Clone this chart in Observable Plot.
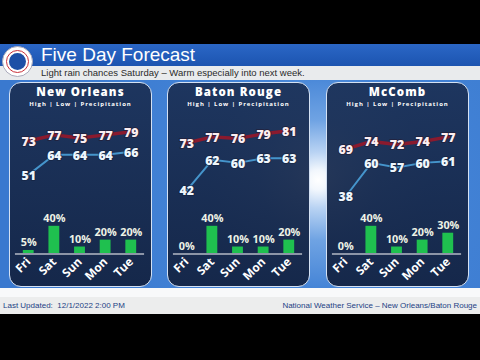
<!DOCTYPE html>
<html><head><meta charset="utf-8">
<script src="https://cdn.jsdelivr.net/npm/d3@7"></script>
<script src="https://cdn.jsdelivr.net/npm/@observablehq/plot@0.6"></script>
<style>
html,body{margin:0;padding:0;width:480px;height:360px;overflow:hidden;background:#000;font-family:"Liberation Sans",Arial,sans-serif}
#stage{position:relative;width:480px;height:360px;background:#000}
.abs{position:absolute}
#titlebar{left:0;top:44px;width:480px;height:22px;background:linear-gradient(#2b67c6,#1c54b0)}
#title{left:41px;top:44px;font-size:19px;color:#fff;line-height:22px;white-space:nowrap}
#subband{left:0;top:66px;width:480px;height:14px;background:#e9ebed}
#subtitle{left:41px;top:66px;font-size:9.5px;color:#2a2a2a;line-height:14px;white-space:nowrap}
#bg{left:0;top:80px;width:480px;height:208px;background:radial-gradient(circle at 318px 100px,#ffffff 0,#f2f7fd 10px,#b9d3f3 28px,#6fa3e3 60px,#4383d6 110px,#3a79cf 300px)}
#gap{left:0;top:288px;width:480px;height:9px;background:#f8f9fa}
#footer{left:0;top:297px;width:480px;height:17px;background:#eceded}
#updated{left:3px;top:297px;line-height:17px;font-size:8px;color:#233f84;white-space:nowrap}
#nws{right:3px;top:297px;line-height:17px;font-size:8px;color:#233f84;white-space:nowrap}
#logo{left:2px;top:46px;width:31px;height:31px;border-radius:50%;background:#fff;border:1px solid #aab;box-sizing:border-box}
#logo .ring{position:absolute;left:3px;top:3px;width:23px;height:23px;border-radius:50%;border:1.5px solid #c8303a;box-sizing:border-box}
#logo .inner{position:absolute;left:6px;top:6px;width:17px;height:17px;border-radius:50%;background:#1d4fa6}
.card{position:absolute;top:82px;width:143px;height:205px;border-radius:12px;border:1.5px solid #d4e1f3;box-sizing:border-box;background:linear-gradient(rgba(27,48,86,0.93),rgba(20,37,70,0.97));overflow:visible}
.ctitle{position:absolute;left:0;top:2px;width:100%;text-align:center;color:#fff;font-family:"Open Sans",sans-serif;font-weight:800;font-size:11.5px;line-height:14px;letter-spacing:1.1px;white-space:nowrap}
.csub{position:absolute;left:0;top:17px;width:100%;text-align:center;color:#fff;font-family:"Open Sans",sans-serif;font-weight:700;font-size:6px;line-height:8px;letter-spacing:0.95px;white-space:nowrap}
.card svg{position:absolute;left:-1.5px;overflow:visible;background:transparent}
</style></head>
<body><div id="stage">
<div class="abs" id="titlebar"></div>
<div class="abs" id="title">Five Day Forecast</div>
<div class="abs" id="subband"></div>
<div class="abs" id="subtitle">Light rain chances Saturday – Warm especially into next week.</div>
<div class="abs" id="logo"><div class="ring"></div><div class="inner"></div></div>
<div class="abs" id="bg"></div>
<div class="abs" id="gap"></div>
<div class="abs" id="footer"></div>
<div class="abs" id="updated">Last Updated:&nbsp; 12/1/2022 2:00 PM</div>
<div class="abs" id="nws">National Weather Service – New Orleans/Baton Rouge</div>
</div>
<script>
const days = ["Fri","Sat","Sun","Mon","Tue"];
const cities = ["New Orleans","Baton Rouge","McComb"];
const subtitleText = "High | Low | Precipitation";
const highNewOrleans = [73,77,75,77,79];
const lowNewOrleans  = [51,64,64,64,66];
const precipNewOrleans = [5,40,10,20,20];
const highBatonRouge = [73,77,76,79,81];
const lowBatonRouge  = [42,62,60,63,63];
const precipBatonRouge = [0,40,10,10,20];
const highMcComb = [69,74,72,74,77];
const lowMcComb  = [38,60,57,60,61];
const precipMcComb = [0,40,10,20,30];

const series = [
  {high: highNewOrleans, low: lowNewOrleans, precip: precipNewOrleans},
  {high: highBatonRouge, low: lowBatonRouge, precip: precipBatonRouge},
  {high: highMcComb, low: lowMcComb, precip: precipMcComb}
];
// layout only
const cardLefts = [9, 167, 326];
const tempShift = [-2, 0, 0];
const font = "'Open Sans', sans-serif";
const xScale = {type:"band", domain: days, paddingInner:0.58, paddingOuter:0.29};

const stage = document.getElementById("stage");
cities.forEach((city, ci) => {
  const s = series[ci];
  const card = document.createElement("div");
  card.className = "card";
  card.style.left = cardLefts[ci] + "px";
  const t = document.createElement("div"); t.className = "ctitle"; t.textContent = city; card.appendChild(t);
  const st = document.createElement("div"); st.className = "csub"; st.textContent = subtitleText; card.appendChild(st);

  const highs = days.map((d,i) => ({day:d, v:s.high[i]}));
  const lows = days.map((d,i) => ({day:d, v:s.low[i]}));
  const pr = days.map((d,i) => ({day:d, p:s.precip[i]}));

  const temp = Plot.plot({
    width:143, height:130, marginLeft:6, marginRight:6, marginTop:0, marginBottom:0,
    style:{background:"transparent", fontFamily:font, overflow:"visible"},
    x:{...xScale, axis:null},
    y:{domain:[30,90], range:[127,34], axis:null},
    marks:[
      Plot.line(highs, {x:"day", y:"v", stroke:"#8a1a2e", strokeWidth:3.5}),
      Plot.line(lows, {x:"day", y:"v", stroke:"#4595cc", strokeWidth:2}),
      Plot.text(highs, {x:"day", y:"v", text:d=>String(d.v), fill:"#fbeef1", stroke:"#241a30", strokeWidth:2, strokeOpacity:0.6, fontSize:12.5, fontWeight:800, dy:1}),
      Plot.text(lows, {x:"day", y:"v", text:d=>String(d.v), fill:"#eef6fc", stroke:"#14223e", strokeWidth:2, strokeOpacity:0.6, fontSize:12.5, fontWeight:800, dy:1})
    ]
  });
  temp.style.top = tempShift[ci] + "px";
  card.appendChild(temp);

  const bars = Plot.plot({
    width:143, height:76, marginLeft:6, marginRight:6, marginTop:0, marginBottom:35,
    style:{background:"transparent", fontFamily:font, overflow:"visible"},
    x:{...xScale},
    y:{domain:[0,60], range:[41,-1], axis:null},
    marks:[
      Plot.barY(pr, {x:"day", y:"p", fill:"#1fc04f"}),
      Plot.ruleY([0], {stroke:"#8c95a7", strokeWidth:2}),
      Plot.text(pr, {x:"day", y:"p", text:d=>d.p+"%", fill:"#eef3e6", fontSize:11, fontWeight:700, dy:-8}),
      Plot.axisX({tickRotate:-45, tickSize:0, tickPadding:6, fontSize:12, fontWeight:700, fill:"#ffffff", label:null})
    ]
  });
  bars.style.top = "130px";
  card.appendChild(bars);
  stage.appendChild(card);
});
</script>
</body></html>
